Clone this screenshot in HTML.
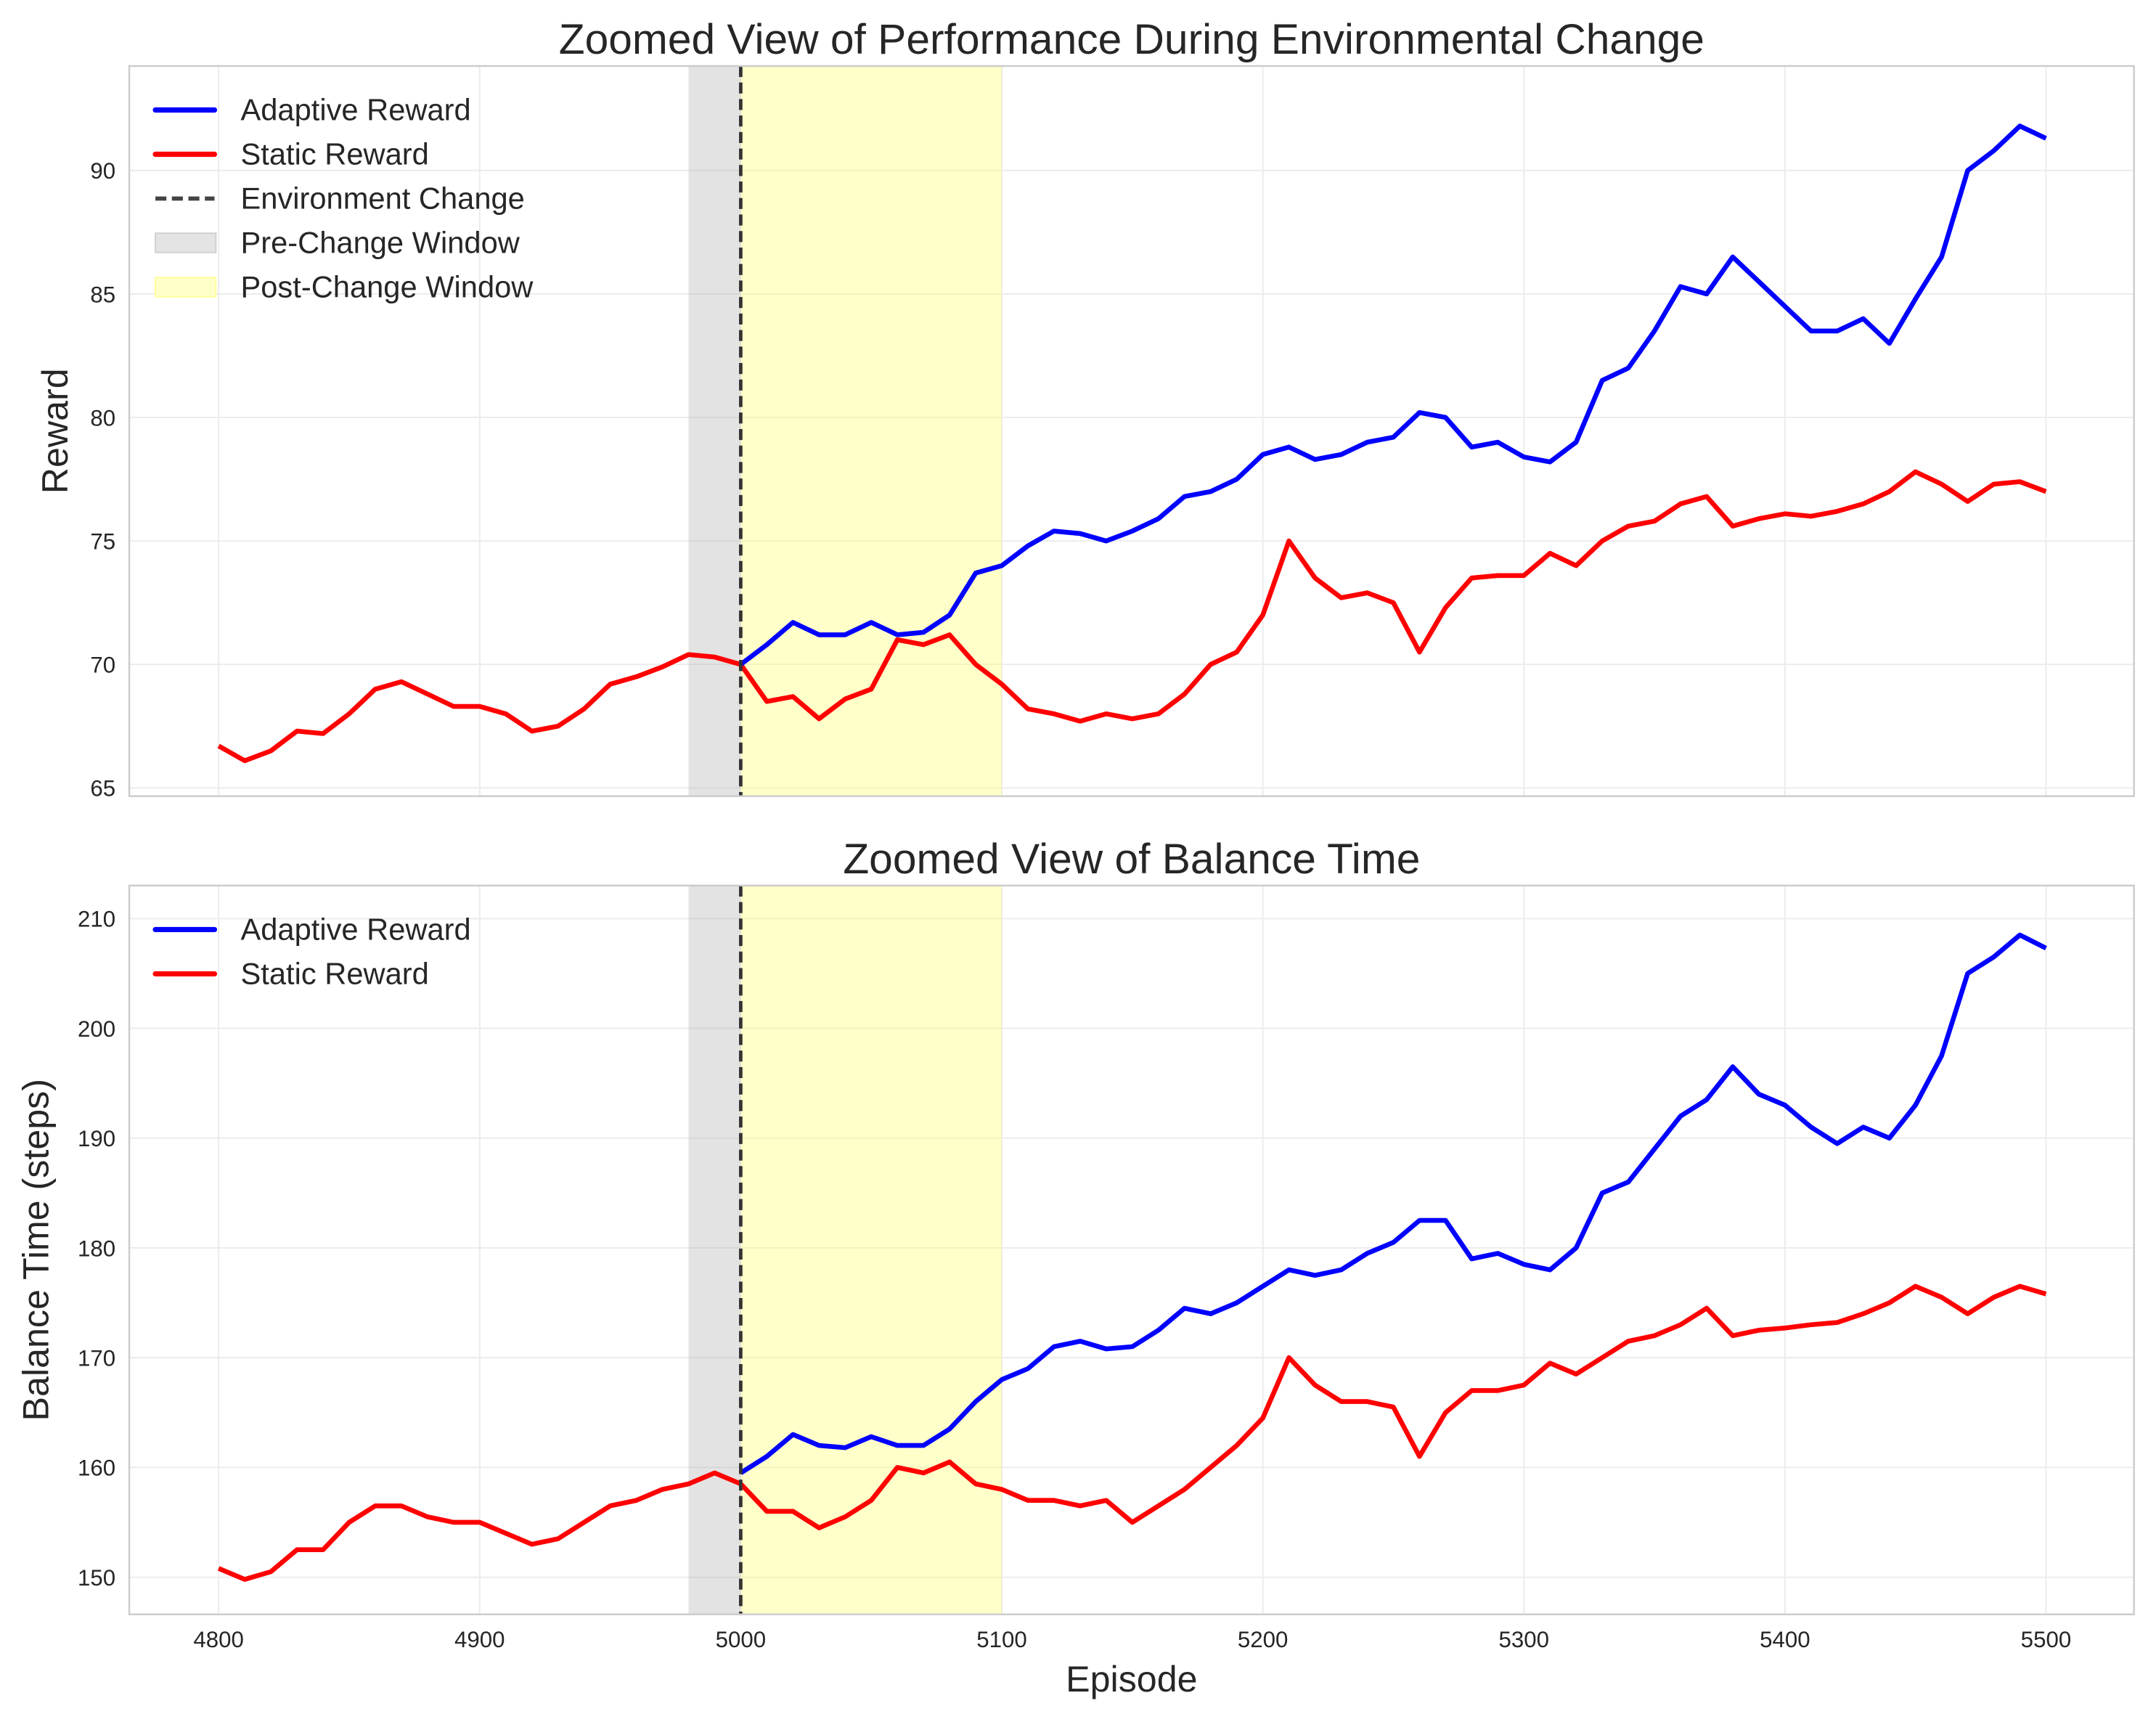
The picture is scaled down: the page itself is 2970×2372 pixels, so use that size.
<!DOCTYPE html>
<html><head><meta charset="utf-8">
<style>
html,body{margin:0;padding:0;background:#fff;}
svg{display:block;font-family:"Liberation Sans",sans-serif;}
</style></head>
<body>
<svg id="chart" width="2970" height="2372" viewBox="0 0 1568 1252.3" xmlns="http://www.w3.org/2000/svg">
<rect width="1568" height="1253" fill="#fff"/>
<g id="root"></g>
</svg>
<script>
const episodes = [];
for (let e = 4800; e <= 5500; e += 10) episodes.push(e);
const adaptiveEpisodes = episodes.filter(e => e >= 5000);
const staticReward = [66.7,66.1,66.5,67.3,67.2,68.0,69.0,69.3,68.8,68.3,68.3,68.0,67.3,67.5,68.2,69.2,69.5,69.9,70.4,70.3,70.0,68.5,68.7,67.8,68.6,69.0,71.0,70.8,71.2,70.0,69.2,68.2,68.0,67.7,68.0,67.8,68.0,68.8,70.0,70.5,72.0,75.0,73.5,72.7,72.9,72.5,70.5,72.3,73.5,73.6,73.6,74.5,74.0,75.0,75.6,75.8,76.5,76.8,75.6,75.9,76.1,76.0,76.2,76.5,77.0,77.8,77.3,76.6,77.3,77.4,77.0];
const adaptiveReward = [70.0,70.8,71.7,71.2,71.2,71.7,71.2,71.3,72.0,73.7,74.0,74.8,75.4,75.3,75.0,75.4,75.9,76.8,77.0,77.5,78.5,78.8,78.3,78.5,79.0,79.2,80.2,80.0,78.8,79.0,78.4,78.2,79.0,81.5,82.0,83.5,85.3,85.0,86.5,85.5,84.5,83.5,83.5,84.0,83.0,84.8,86.5,90.0,90.8,91.8,91.3];
const staticBalance = [150.8,149.8,150.5,152.5,152.5,155,156.5,156.5,155.5,155,155,154,153,153.5,155,156.5,157,158,158.5,159.5,158.5,156,156,154.5,155.5,157,160,159.5,160.5,158.5,158,157,157,156.5,157,155,156.5,158,160,162,164.5,170,167.5,166,166,165.5,161,165,167,167,167.5,169.5,168.5,170,171.5,172,173,174.5,172,172.5,172.7,173,173.2,174,175,176.5,175.5,174,175.5,176.5,175.8];
const adaptiveBalance = [159.5,161,163,162,161.8,162.8,162,162,163.5,166,168,169,171,171.5,170.8,171,172.5,174.5,174,175,176.5,178,177.5,178,179.5,180.5,182.5,182.5,179,179.5,178.5,178,180,185,186,189,192,193.5,196.5,194,193,191,189.5,191,190,193,197.5,205,206.5,208.5,207.3];
const xTicks = [4800,4900,5000,5100,5200,5300,5400,5500];
const rewardTicks = [65,70,75,80,85,90];
const balanceTicks = [150,160,170,180,190,200,210];
const changeEpisode = 5000, preStart = 4980, postEnd = 5100;

const NS = "http://www.w3.org/2000/svg";
const root = document.getElementById('root');
function mk(tag, attrs, parent){const el=document.createElementNS(NS,tag);for(const k in attrs)el.setAttribute(k,attrs[k]);(parent||root).appendChild(el);return el;}
const L=94,R=1552;
const xs = e => 159 + (e-4800)*(1488-159)/700;

function panel(name, top, bottom, yf, yTicks, series, title, ylabel, showX, legendItems){
  const g = mk('g',{});
  
  
  mk('rect',{x:L,y:top,width:R-L,height:bottom-top,fill:'#fff'},g);
  xTicks.forEach(t=>{const l=mk('line',{x1:xs(t),x2:xs(t),y1:top,y2:bottom,stroke:'#ebebeb','stroke-width':1},g);});
  yTicks.forEach(t=>{const l=mk('line',{x1:L,x2:R,y1:yf(t),y2:yf(t),stroke:'#ebebeb','stroke-width':1},g);});
  const pre=mk('rect',{x:xs(preStart),y:top,width:xs(changeEpisode)-xs(preStart),height:bottom-top,fill:'#b0b0b0','fill-opacity':0.35},g);
  
  const post=mk('rect',{x:xs(changeEpisode),y:top,width:xs(postEnd)-xs(changeEpisode),height:bottom-top,fill:'#ffff66','fill-opacity':0.35},g);
  
  series.forEach(s=>{
    const d=s.x.map((e,i)=>(i?'L':'M')+xs(e).toFixed(2)+','+yf(s.y[i]).toFixed(2)).join(' ');
    const p=mk('path',{d:d,fill:'none',stroke:s.color,'stroke-width':3.5,'stroke-linejoin':'round'},g);
    
  });
  const vl=mk('line',{x1:xs(changeEpisode),x2:xs(changeEpisode),y1:top,y2:bottom,stroke:'#333','stroke-width':2.5,'stroke-dasharray':'8,4'},g);
  
  const fr=mk('rect',{x:L,y:top,width:R-L,height:bottom-top,fill:'none',stroke:'#cccccc','stroke-width':1.3},g);
  
  yTicks.forEach(t=>{const tx=mk('text',{x:L-10,y:yf(t)+6,'text-anchor':'end','font-size':16.5,fill:'#262626'},g);tx.textContent=t;});
  if(showX){xTicks.forEach(t=>{const tx=mk('text',{x:xs(t),y:bottom+24,'text-anchor':'middle','font-size':16.5,fill:'#262626'},g);tx.textContent=t;});}
  const ti=mk('text',{x:(L+R)/2,y:top-9,'text-anchor':'middle','font-size':31,fill:'#262626'},g);ti.textContent=title;
  
  const yl=mk('text',{x:0,y:0,'text-anchor':'middle','font-size':26.5,fill:'#262626',transform:`translate(${ylabel.x},${(top+bottom)/2}) rotate(-90)`},g);yl.textContent=ylabel.t;
  
  const lg=mk('g',{},g);
  legendItems.forEach((it,i)=>{
    const cy=top+32+i*32.2;
    const e=mk('g',{},lg);
    if(it.type==='line') mk('line',{x1:113,x2:156,y1:cy,y2:cy,stroke:it.color,'stroke-width':3.8,'stroke-linecap':'round'},e);
    else if(it.type==='dash') mk('line',{x1:113,x2:156,y1:cy,y2:cy,stroke:'#444','stroke-width':3,'stroke-dasharray':'8,4'},e);
    else mk('rect',{x:113,y:cy-7,width:44,height:14,fill:it.color,stroke:it.stroke,'stroke-width':1},e);
    const t=mk('text',{x:175,y:cy+7.5,'font-size':22,fill:'#262626'},e);t.textContent=it.label;
  });
}

const yTop = v => 124 + (90-v)*(573-124)/25;
const yBot = v => 668 + (210-v)*(1147-668)/60;
panel('reward-panel',48,579,yTop,rewardTicks,[
  {name:'static-reward-line',x:episodes,y:staticReward,color:'#ff0000'},
  {name:'adaptive-reward-line',x:adaptiveEpisodes,y:adaptiveReward,color:'#0000ff'}
],'Zoomed View of Performance During Environmental Change',{t:'Reward',x:49},false,[
  {type:'line',color:'#0000ff',label:'Adaptive Reward'},
  {type:'line',color:'#ff0000',label:'Static Reward'},
  {type:'dash',label:'Environment Change'},
  {type:'rect',color:'#e4e4e4',stroke:'#cfcfcf',label:'Pre-Change Window'},
  {type:'rect',color:'#ffffc8',stroke:'#ffff99',label:'Post-Change Window'}
]);
panel('balance-panel',644,1174,yBot,balanceTicks,[
  {name:'static-balance-line',x:episodes,y:staticBalance,color:'#ff0000'},
  {name:'adaptive-balance-line',x:adaptiveEpisodes,y:adaptiveBalance,color:'#0000ff'}
],'Zoomed View of Balance Time',{t:'Balance Time (steps)',x:35},true,[
  {type:'line',color:'#0000ff',label:'Adaptive Reward'},
  {type:'line',color:'#ff0000',label:'Static Reward'}
]);
const xl=mk('text',{x:(L+R)/2,y:1230,'text-anchor':'middle','font-size':26.5,fill:'#262626'});
xl.textContent='Episode';


</script>
</body></html>
